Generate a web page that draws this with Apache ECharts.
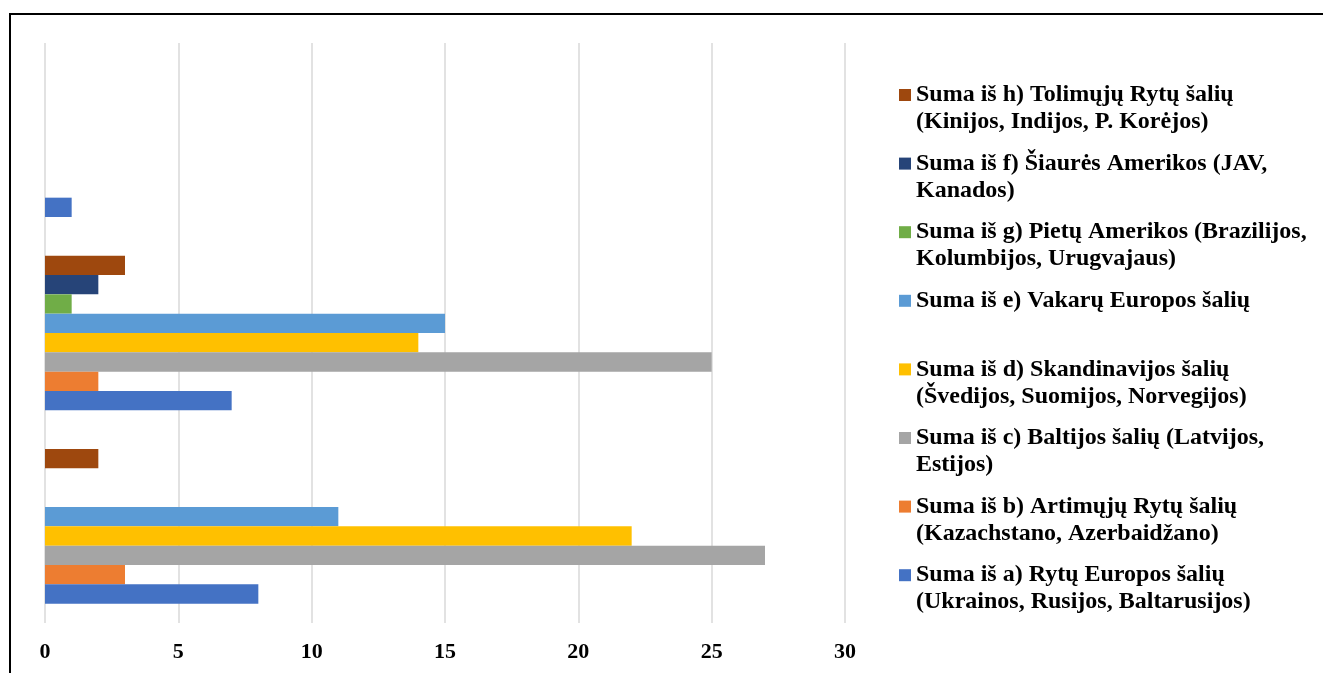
<!DOCTYPE html>
<html><head><meta charset="utf-8">
<script src="https://cdn.jsdelivr.net/npm/echarts@6/dist/echarts.min.js"></script>
<style>html,body{margin:0;padding:0;background:#fff}#c{width:1323px;height:673px}</style>
</head><body><div id="c"></div>
<script>
const categories = ['Grupė 1', 'Grupė 2', 'Grupė 3'];
const xTicks = [0, 5, 10, 15, 20, 25, 30];

const seriesNames = [
  'Suma iš a) Rytų Europos šalių\n(Ukrainos, Rusijos, Baltarusijos)',
  'Suma iš b) Artimųjų Rytų šalių\n(Kazachstano, Azerbaidžano)',
  'Suma iš c) Baltijos šalių (Latvijos,\nEstijos)',
  'Suma iš d) Skandinavijos šalių\n(Švedijos, Suomijos, Norvegijos)',
  'Suma iš e) Vakarų Europos šalių',
  'Suma iš g) Pietų Amerikos (Brazilijos,\nKolumbijos, Urugvajaus)',
  'Suma iš f) Šiaurės Amerikos (JAV,\nKanados)',
  'Suma iš h) Tolimųjų Rytų šalių\n(Kinijos, Indijos, P. Korėjos)'
];
const valuesA = [8, 7, 1];
const valuesB = [3, 2, 0];
const valuesC = [27, 25, 0];
const valuesD = [22, 14, 0];
const valuesE = [11, 15, 0];
const valuesG = [0, 1, 0];
const valuesF = [0, 2, 0];
const valuesH = [2, 3, 0];
const seriesValues = [valuesA, valuesB, valuesC, valuesD, valuesE, valuesG, valuesF, valuesH];
const colors = ['#4472C4', '#ED7D31', '#A5A5A5', '#FFC000', '#5B9BD5', '#70AD47', '#264478', '#9E480E'];

const FONT = '"Liberation Serif", "Times New Roman", serif';
const LH = 27;
const chart = echarts.init(document.getElementById('c'), null, {renderer: 'canvas'});

// legend top-to-bottom and in-group bar order top-to-bottom: h, f, g, e, d, c, b, a
const topDownOrder = [7, 6, 5, 4, 3, 2, 1, 0];
const legends = topDownOrder.map((idx, i) => {
  const name = seriesNames[idx];
  const n = name.split('\n').length;
  const center = 95 + i * 68.6;
  return {
    data: [name],
    left: 899,
    top: center - (2 * n - 1) * LH / 2,
    orient: 'vertical',
    padding: 0,
    itemGap: 0,
    itemWidth: 12,
    itemHeight: 12,
    icon: 'rect',
    selectedMode: false,
    formatter: nm => '\n'.repeat(nm.split('\n').length - 1) + nm,
    textStyle: {fontFamily: FONT, fontWeight: 'bold', fontSize: 24, color: '#000', lineHeight: LH}
  };
});

chart.setOption({
  animation: false,
  backgroundColor: '#fff',
  color: colors,
  grid: {left: 45, right: 478, top: 43, bottom: 50, containLabel: false},
  legend: legends,
  xAxis: {
    type: 'value', min: xTicks[0], max: xTicks[xTicks.length - 1], interval: 5,
    axisLine: {show: false}, axisTick: {show: false},
    splitLine: {show: true, lineStyle: {color: '#D9D9D9', width: 1.5}},
    axisLabel: {fontFamily: FONT, fontWeight: 'bold', fontSize: 22, color: '#000', margin: 18}
  },
  yAxis: {
    type: 'category', data: categories,
    axisLine: {show: false}, axisTick: {show: false}, axisLabel: {show: false}
  },
  series: topDownOrder.map(i => ({
    type: 'bar', name: seriesNames[i], data: seriesValues[i],
    barGap: '0%', barCategoryGap: '20%',
    itemStyle: {color: colors[i]}
  })),
  graphic: [{
    type: 'rect', silent: true, z: 100,
    shape: {x: 10, y: 14, width: 1400, height: 800},
    style: {fill: 'none', stroke: '#000', lineWidth: 2}
  }]
});
</script></body></html>
